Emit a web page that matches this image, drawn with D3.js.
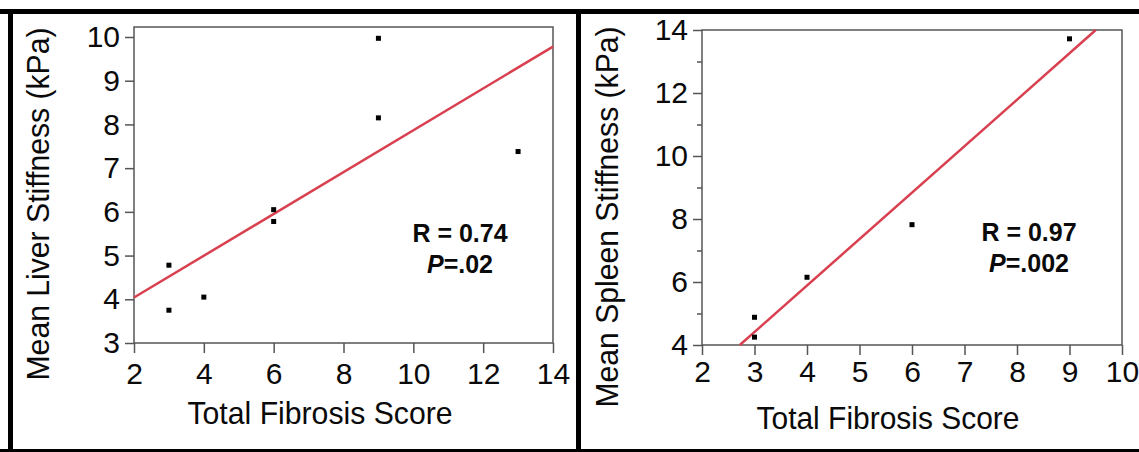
<!DOCTYPE html>
<html>
<head>
<meta charset="utf-8">
<script src="https://cdn.jsdelivr.net/npm/d3@7"></script>
<style>
  body { margin: 0; background: #fff; }
  svg { display: block; font-family: "Liberation Sans", Arial, sans-serif; }
</style>
</head>
<body>
<svg id="chart" width="1139" height="452"></svg>
<script>
// liver panel
const liverScore = [3, 3, 4, 6, 6, 9, 9, 13];
const liverKpa = [4.78, 3.75, 4.05, 6.05, 5.78, 9.97, 8.15, 7.38];
const liverFitX = [2, 14];
const liverFitY = [4.04, 9.78];
const liverXTicks = [2, 4, 6, 8, 10, 12, 14];
const liverYTicks = [3, 4, 5, 6, 7, 8, 9, 10];

// spleen panel
const spleenScore = [3, 3, 4, 6, 9];
const spleenKpa = [4.88, 4.25, 6.15, 7.82, 13.72];
const spleenFitX = [2.72, 9.5];
const spleenFitY = [4.0, 14.0];
const spleenXTicks = [2, 3, 4, 5, 6, 7, 8, 9, 10];
const spleenYTicks = [4, 6, 8, 10, 12, 14];
const spleenYMinor = [5, 7, 9, 11, 13];

const svg = d3.select("#chart");

// outer black frame and divider
svg.append("rect").attr("x", 0).attr("y", 9).attr("width", 1139).attr("height", 5).attr("fill", "#000");
svg.append("rect").attr("x", 8).attr("y", 9).attr("width", 5).attr("height", 443).attr("fill", "#000");
svg.append("rect").attr("x", 0).attr("y", 449).attr("width", 1139).attr("height", 3).attr("fill", "#000");
svg.append("rect").attr("x", 576).attr("y", 9).attr("width", 5).attr("height", 443).attr("fill", "#000");

function drawPanel(p) {
    const x = d3.scaleLinear().domain(p.xDomain).range(p.xRange);
    const y = d3.scaleLinear().domain(p.yDomain).range(p.yRange);
    const g = svg.append("g");

    // frame
    g.append("rect")
        .attr("x", p.xRange[0]).attr("y", p.frameTop)
        .attr("width", p.xRange[1] - p.xRange[0])
        .attr("height", p.yRange[0] - p.frameTop)
        .attr("fill", "none").attr("stroke", "#555").attr("stroke-width", 1.5);

    const xAxis = g.append("g")
        .attr("transform", `translate(0,${p.yRange[0]})`)
        .call(d3.axisBottom(x).tickValues(p.xTicks).tickSize(10).tickSizeOuter(0).tickPadding(p.xPad).tickFormat(d3.format("d")));
    const yAxis = g.append("g")
        .attr("transform", `translate(${p.xRange[0]},0)`)
        .call(d3.axisLeft(y).tickValues(p.yTicks).tickSize(9).tickSizeOuter(0).tickPadding(5).tickFormat(d3.format("d")));
    if (p.yMinor) {
        g.append("g")
            .attr("transform", `translate(${p.xRange[0]},0)`)
            .call(d3.axisLeft(y).tickValues(p.yMinor).tickSize(5).tickSizeOuter(0).tickFormat(""))
            .call(a => a.select(".domain").remove())
            .selectAll("line").attr("stroke", "#555").attr("stroke-width", 1.5);
    }
    [xAxis, yAxis].forEach(a => {
        a.select(".domain").remove();
        a.selectAll("line").attr("stroke", "#555").attr("stroke-width", 1.5);
        a.selectAll("text").attr("font-size", 30).attr("fill", "#0a0a0a");
    });

    // fit line
    g.append("path")
        .datum(d3.zip(p.fitX, p.fitY))
        .attr("d", d3.line().x(d => x(d[0])).y(d => y(d[1])))
        .attr("fill", "none").attr("stroke", "#d9404f").attr("stroke-width", 2.5);

    // points
    g.selectAll("rect.pt")
        .data(d3.zip(p.xs, p.ys))
        .enter().append("rect")
        .attr("class", "pt")
        .attr("x", d => x(d[0]) - 2.5).attr("y", d => y(d[1]) - 2.5)
        .attr("width", 5).attr("height", 5)
        .attr("fill", "#000");

    // axis titles
    g.append("text")
        .attr("x", p.xTitle[0]).attr("y", p.xTitle[1])
        .attr("text-anchor", "middle").attr("font-size", 32).attr("fill", "#0a0a0a")
        .attr("textLength", p.xTitleLen).attr("lengthAdjust", "spacingAndGlyphs")
        .text("Total Fibrosis Score");
    g.append("text")
        .attr("transform", `translate(${p.yTitle[0]},${p.yTitle[1]}) rotate(-90)`)
        .attr("text-anchor", "middle").attr("font-size", 32).attr("fill", "#0a0a0a")
        .attr("textLength", p.yTitleLen).attr("lengthAdjust", "spacingAndGlyphs")
        .text(p.yLabel);

    // stats
    g.append("text")
        .attr("x", p.stat[0]).attr("y", p.stat[1])
        .attr("text-anchor", "middle").attr("font-size", 25).attr("font-weight", "bold").attr("fill", "#0a0a0a")
        .text(p.rText);
    const pt = g.append("text")
        .attr("x", p.stat[0]).attr("y", p.stat[1] + 31)
        .attr("text-anchor", "middle").attr("font-size", 25).attr("font-weight", "bold").attr("fill", "#0a0a0a");
    pt.append("tspan").attr("font-style", "italic").text("P");
    pt.append("tspan").text(p.pText);
}

drawPanel({
    xs: liverScore, ys: liverKpa, fitX: liverFitX, fitY: liverFitY,
    xDomain: [2, 14], xRange: [134, 553],
    yDomain: [3, 10], yRange: [343, 37], frameTop: 27,
    xTicks: liverXTicks, yTicks: liverYTicks, xPad: 10,
    xTitle: [320, 424], xTitleLen: 265,
    yTitle: [49, 204], yTitleLen: 353,
    yLabel: "Mean Liver Stiffness (kPa)",
    stat: [460, 242], rText: "R = 0.74", pText: "=.02"
});

drawPanel({
    xs: spleenScore, ys: spleenKpa, fitX: spleenFitX, fitY: spleenFitY,
    xDomain: [2, 10], xRange: [702, 1122],
    yDomain: [4, 14], yRange: [345, 30], frameTop: 30,
    xTicks: spleenXTicks, yTicks: spleenYTicks, yMinor: spleenYMinor, xPad: 6,
    xTitle: [888, 429], xTitleLen: 263,
    yTitle: [618, 217], yTitleLen: 381,
    yLabel: "Mean Spleen Stiffness (kPa)",
    stat: [1029, 241], rText: "R = 0.97", pText: "=.002"
});
</script>
</body>
</html>
